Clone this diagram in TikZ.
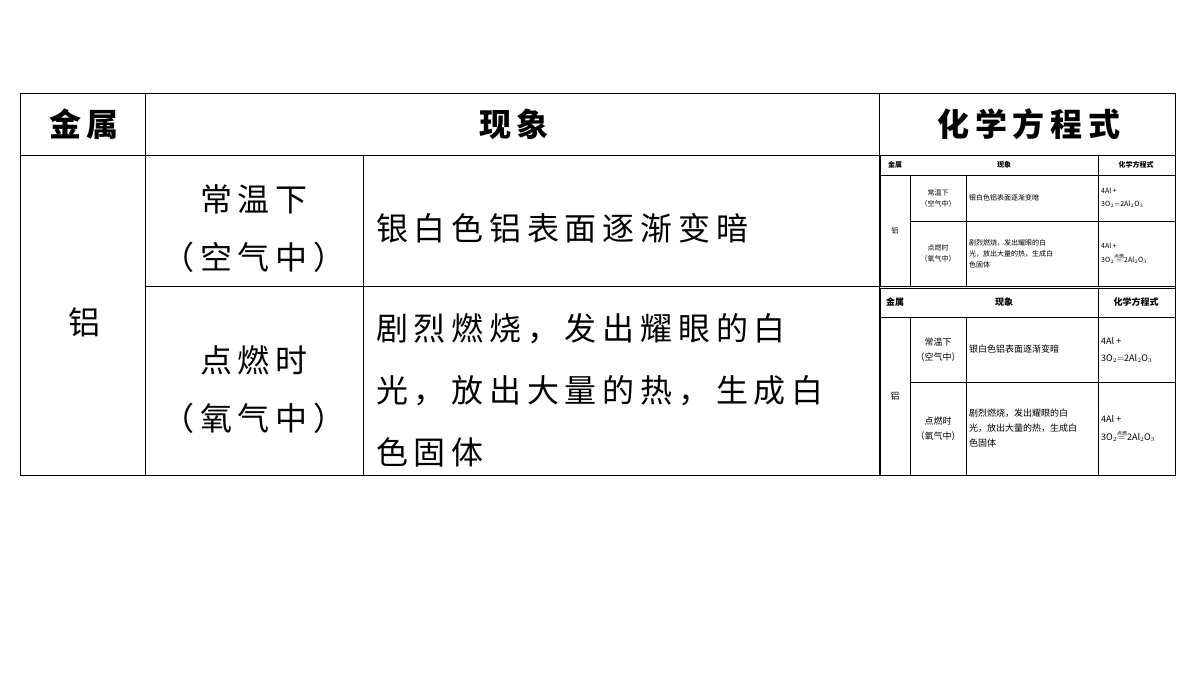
\documentclass[tikz,border=0pt]{standalone}
\usepackage{fontspec}
\setmainfont{Noto Sans CJK SC}
\newfontfamily\spaced[LetterSpace=18]{Noto Sans CJK SC}
\usepackage{amsmath}
\tikzset{
  cell/.style={font=\spaced\fontsize{32}{58}\selectfont, inner sep=0pt},
  head/.style={font=\spaced\fontsize{32}{38}\selectfont\bfseries, inner sep=0pt},
  grid/.style={line width=0.9pt},
}
% small copy of the table: top, header bottom, row divide, bottom, font size, line skip
\newcommand\minitable[6]{%
  \draw[line width=0.6pt] (880,#1) rectangle (1175,#4);
  \draw[line width=0.4pt] (880,#2) -- (1175,#2)
    (910,#2) -- (910,#4) (966,#2) -- (966,#4) (1098,#1) -- (1098,#4)
    (910,#3) -- (1175,#3);
  \begin{scope}[every node/.style={inner sep=0pt, font=\fontsize{#5}{#6}\selectfont}]
    \node[font=\fontsize{#5}{#6}\selectfont\bfseries] at (895,{(#1+#2)/2}) {金属};
    \node[font=\fontsize{#5}{#6}\selectfont\bfseries] at (1004,{(#1+#2)/2}) {现象};
    \node[font=\fontsize{#5}{#6}\selectfont\bfseries] at (1136,{(#1+#2)/2}) {化学方程式};
    \node at (895,{(#2+#4)/2}) {铝};
    \node[align=center] at (938,{(#2+#3)/2}) {常温下\\（空气中）};
    \node[align=center] at (938,{(#3+#4)/2}) {点燃时\\（氧气中）};
    \node[anchor=west] at (969,{(#2+#3)/2}) {银白色铝表面逐渐变暗};
    \node[anchor=west, align=left] at (969,{(#3+#4)/2}) {剧烈燃烧，发出耀眼的白\\光，放出大量的热，生成白\\色固体};
    \node[anchor=west, align=left] at (1101,{(#2+#3)/2}) {4Al +\\[2pt]3O$_2$$=$2Al$_2$O$_3$};
    \node[anchor=west, align=left] at (1101,{(#3+#4)/2}) {4Al +\\[3pt]3O$_2$$\overset{\text{\tiny 点燃}}{=}$2Al$_2$O$_3$};
  \end{scope}}
\begin{document}
\begin{tikzpicture}[x=1pt,y=-1pt]
  \useasboundingbox[fill=white] (0,0) rectangle (1200,675);

  % grid
  \draw[grid] (20,93) rectangle (1175,475);
  \draw[grid] (20,155) -- (1175,155)
    (145,93) -- (145,475) (363,155) -- (363,475) (879,93) -- (879,475)
    (145,286) -- (879,286);

  % header
  \node[head] (metal) at (84,124) {金属};
  \node[head] (phen) at (514,124) {现象};
  \node[head] (eqn) at (1029,124) {化学方程式};

  % body
  \node[cell] (al) at (84,322) {铝};
  \node[cell, align=center] (room) at (254,229) {常温下\\（空气中）};
  \node[cell, align=center] (fire) at (254,390) {点燃时\\（氧气中）};
  \node[cell, anchor=west] (dark) at (376,228) {银白色铝表面逐渐变暗};
  \node[cell, anchor=west, align=left, font=\spaced\fontsize{32}{62}\selectfont]
    (burn) at (376,390) {剧烈燃烧，发出耀眼的白\\光，放出大量的热，生成白\\色固体};

  % pasted copies of the table
  \minitable{155}{175}{221}{286}{7}{11}
  \minitable{288}{317}{382}{475}{9}{15}
\end{tikzpicture}
\end{document}
